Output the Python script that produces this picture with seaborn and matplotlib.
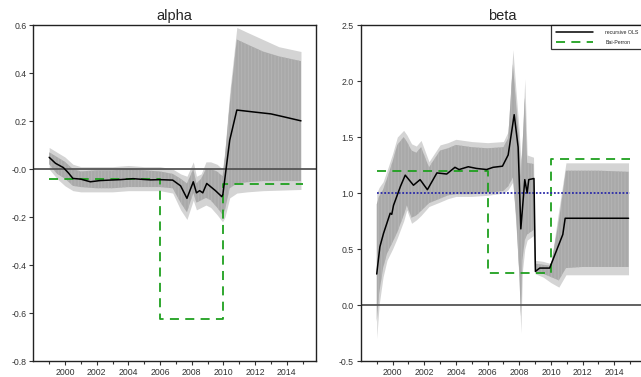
import matplotlib
matplotlib.use("Agg")
import matplotlib.pyplot as plt
import seaborn as sns
import numpy as np

# ---- alpha panel ----
alpha_line_x = [1999.0, 1999.4, 1999.9, 2000.2, 2000.5, 2001.0, 2001.6, 2002.2, 2002.8,
                2003.5, 2004.3, 2004.9, 2005.4, 2006.0, 2006.8, 2007.3, 2007.7, 2008.1,
                2008.3, 2008.5, 2008.7, 2008.95, 2009.5, 2009.9, 2009.97, 2010.4, 2010.85,
                2011.9, 2013.0, 2013.8, 2014.9]
alpha_line_y = [0.049, 0.024, 0.006, -0.015, -0.039, -0.042, -0.053, -0.048, -0.046,
                -0.044, -0.040, -0.043, -0.045, -0.044, -0.046, -0.070, -0.122, -0.053,
                -0.099, -0.090, -0.099, -0.060, -0.090, -0.115, -0.105, 0.120, 0.246,
                0.238, 0.230, 0.218, 0.201]

alpha_band_x = [1999.0, 1999.5, 2000.0, 2000.5, 2001.0, 2002.0, 2003.0, 2004.0, 2005.0,
                2006.0, 2006.8, 2007.3, 2007.7, 2008.1, 2008.3, 2008.6, 2008.9, 2009.2,
                2009.6, 2009.95, 2010.1, 2010.4, 2010.85, 2011.5, 2012.5, 2013.5, 2014.9]
alpha_outer_hi = [0.09, 0.07, 0.05, 0.02, 0.01, 0.01, 0.01, 0.015, 0.01,
                  0.01, 0.0, -0.02, -0.03, 0.03, -0.03, -0.02, 0.03, 0.03,
                  0.02, 0.0, 0.08, 0.32, 0.59, 0.57, 0.54, 0.51, 0.49]
alpha_inner_hi = [0.07, 0.05, 0.03, 0.0, -0.01, -0.005, -0.005, 0.0, -0.005,
                  -0.01, -0.02, -0.04, -0.06, 0.0, -0.06, -0.04, 0.0, 0.0,
                  -0.01, -0.03, 0.05, 0.27, 0.54, 0.52, 0.49, 0.47, 0.45]
alpha_inner_lo = [0.02, -0.02, -0.04, -0.07, -0.075, -0.08, -0.08, -0.075, -0.075,
                  -0.075, -0.08, -0.14, -0.18, -0.10, -0.14, -0.13, -0.12, -0.13,
                  -0.16, -0.19, -0.17, -0.08, -0.06, -0.055, -0.05, -0.05, -0.05]
alpha_outer_lo = [0.0, -0.04, -0.07, -0.09, -0.095, -0.095, -0.095, -0.09, -0.09,
                  -0.09, -0.10, -0.17, -0.21, -0.13, -0.17, -0.16, -0.15, -0.16,
                  -0.19, -0.22, -0.20, -0.12, -0.10, -0.095, -0.09, -0.088, -0.085]

alpha_bp_x = [1999.0, 2006.0, 2006.0, 2010.0, 2010.0, 2015.0]
alpha_bp_y = [-0.042, -0.042, -0.625, -0.625, -0.064, -0.064]

# ---- beta panel ----
beta_line_x = [1999.0, 1999.2, 1999.43, 1999.85, 1999.95, 2000.06, 2000.5, 2000.8, 2001.32,
               2001.74, 2002.2, 2002.8, 2003.42, 2003.94, 2004.2, 2004.78, 2005.3, 2005.94,
               2006.35, 2006.94, 2007.3, 2007.68, 2007.93, 2008.1, 2008.35, 2008.5, 2008.6,
               2008.93, 2009.02, 2009.29, 2009.92, 2010.75, 2010.9, 2014.9]
beta_line_y = [0.277, 0.52, 0.64, 0.82, 0.81, 0.89, 1.06, 1.16, 1.07,
               1.12, 1.03, 1.18, 1.17, 1.23, 1.21, 1.235, 1.22, 1.21,
               1.23, 1.24, 1.34, 1.70, 1.41, 0.68, 1.12, 1.00, 1.12,
               1.13, 0.30, 0.33, 0.33, 0.63, 0.775, 0.775]

beta_band_x = [1999.0, 1999.15, 1999.4, 1999.65, 2000.0, 2000.3, 2000.7, 2000.9, 2001.2,
               2001.5, 2001.8, 2002.3, 2003.0, 2003.5, 2004.0, 2005.0, 2006.0, 2007.0,
               2007.3, 2007.6, 2007.8, 2008.0, 2008.1, 2008.2, 2008.35, 2008.5, 2008.9,
               2009.0, 2009.5, 2010.0, 2010.5, 2010.95, 2012.0, 2013.0, 2014.9]
beta_outer_hi = [1.00, 1.05, 1.10, 1.20, 1.35, 1.50, 1.56, 1.52, 1.44,
                 1.42, 1.47, 1.28, 1.43, 1.45, 1.48, 1.46, 1.45, 1.46,
                 1.55, 2.28, 1.90, 1.55, 1.30, 1.50, 2.02, 1.34, 1.32,
                 0.40, 0.39, 0.37, 0.85, 1.27, 1.27, 1.27, 1.27]
beta_inner_hi = [0.90, 0.97, 1.03, 1.13, 1.28, 1.43, 1.50, 1.46, 1.38,
                 1.36, 1.41, 1.23, 1.38, 1.40, 1.43, 1.41, 1.40, 1.41,
                 1.49, 2.15, 1.80, 1.45, 1.15, 1.40, 1.85, 1.27, 1.26,
                 0.37, 0.36, 0.35, 0.75, 1.20, 1.20, 1.20, 1.19]
beta_inner_lo = [-0.15, 0.10, 0.33, 0.46, 0.56, 0.65, 0.80, 0.89, 0.78,
                 0.80, 0.84, 0.91, 0.95, 0.98, 0.99, 0.99, 1.00, 1.02,
                 1.06, 1.14, 0.80, 0.30, -0.10, 0.40, 0.58, 0.63, 0.67,
                 0.30, 0.28, 0.25, 0.22, 0.33, 0.34, 0.34, 0.34]
beta_outer_lo = [-0.30, 0.00, 0.25, 0.40, 0.50, 0.60, 0.75, 0.85, 0.73,
                 0.76, 0.80, 0.88, 0.92, 0.95, 0.97, 0.97, 0.98, 1.00,
                 1.03, 1.10, 0.70, 0.20, -0.25, 0.30, 0.50, 0.58, 0.62,
                 0.28, 0.25, 0.20, 0.16, 0.27, 0.27, 0.27, 0.27]

beta_bp_x = [1999.0, 2006.0, 2006.0, 2010.0, 2010.0, 2015.0]
beta_bp_y = [1.20, 1.20, 0.29, 0.29, 1.30, 1.30]
beta_ref = 1.0

year_ticks = [2000, 2002, 2004, 2006, 2008, 2010, 2012, 2014]
alpha_yticks = [-0.8, -0.6, -0.4, -0.2, 0.0, 0.2, 0.4, 0.6]
alpha_ylabels = ["-0.8", "-0.6", "-0.4", "-0.2", "-0.0", "0.2", "0.4", "0.6"]
beta_yticks = [-0.5, 0.0, 0.5, 1.0, 1.5, 2.0, 2.5]
beta_ylabels = ["-0.5", "0.0", "0.5", "1.0", "1.5", "2.0", "2.5"]

sns.set_theme(style="ticks")
plt.rcParams["font.family"] = ["Liberation Sans", "DejaVu Sans"]
plt.rcParams["hatch.linewidth"] = 0.6

LIGHT = "#d4d4d4"
DARK = "#a9a9a9"
STRIPE = "#b6b6b6"
GREEN = "#1fa01f"

fig = plt.figure(figsize=(6.41, 3.77), dpi=100)
ax1 = fig.add_axes([0.052, 0.0424, 0.441, 0.891])
ax2 = fig.add_axes([0.563, 0.0424, 0.441, 0.891])


def draw_panel(ax, bx, ohi, ihi, ilo, olo, lx, ly, bpx, bpy):
    # konfidens bantlari: dis (acik gri) ve ic (koyu gri, cizgili)
    ax.fill_between(bx, olo, ohi, color=LIGHT, linewidth=0, zorder=1)
    ax.fill_between(bx, ilo, ihi, facecolor=DARK, edgecolor=STRIPE, hatch="|||||",
                    linewidth=0, zorder=1.5)
    ax.axhline(0, color="#555555", linewidth=1.3, zorder=2)
    sns.lineplot(x=bpx, y=bpy, ax=ax, color=GREEN, linewidth=1.3, sort=False,
                 estimator=None, zorder=3, label="Bai-Perron")
    ax.lines[-1].set_dashes([5, 3.5])
    sns.lineplot(x=lx, y=ly, ax=ax, color="black", linewidth=1.1, sort=False,
                 estimator=None, zorder=4, label="recursive OLS")
    ax.set_xlim(1998.0, 2015.85)
    ax.set_xticks(year_ticks)
    ax.set_xticks(np.arange(1999, 2016, 2), minor=True)
    ax.tick_params(axis="both", which="major", labelsize=6.3, length=3, width=0.8,
                   colors="#333333", pad=2)
    ax.tick_params(axis="x", which="minor", length=2, width=0.8, colors="#333333")
    for s in ax.spines.values():
        s.set_color("#222222")
        s.set_linewidth(1.0)
    ax.set_xlabel("")
    ax.set_ylabel("")


draw_panel(ax1, alpha_band_x, alpha_outer_hi, alpha_inner_hi, alpha_inner_lo, alpha_outer_lo,
           alpha_line_x, alpha_line_y, alpha_bp_x, alpha_bp_y)
ax1.set_ylim(-0.8, 0.6)
ax1.set_yticks(alpha_yticks)
ax1.set_yticklabels(alpha_ylabels)
ax1.set_title("alpha", fontsize=10.5, pad=4)
ax1.get_legend().remove()

draw_panel(ax2, beta_band_x, beta_outer_hi, beta_inner_hi, beta_inner_lo, beta_outer_lo,
           beta_line_x, beta_line_y, beta_bp_x, beta_bp_y)
ax2.hlines(beta_ref, 1999.0, 2015.0, colors="#2a2aa8", linestyles=(0, (1, 1)),
           linewidth=1.3, zorder=3)
ax2.set_ylim(-0.5, 2.5)
ax2.set_yticks(beta_yticks)
ax2.set_yticklabels(beta_ylabels)
ax2.set_title("beta", fontsize=10.5, pad=4)

handles, labels = ax2.get_legend_handles_labels()
order = [labels.index("recursive OLS"), labels.index("Bai-Perron")]
leg = ax2.legend([handles[i] for i in order], [labels[i] for i in order],
                 loc="upper right", borderaxespad=0, fontsize=3.8, frameon=True,
                 fancybox=False, edgecolor="black", handlelength=7,
                 borderpad=0.9, labelspacing=0.9, handletextpad=2.4)
leg.get_frame().set_linewidth(0.9)

fig.savefig("out.png", dpi=100)
